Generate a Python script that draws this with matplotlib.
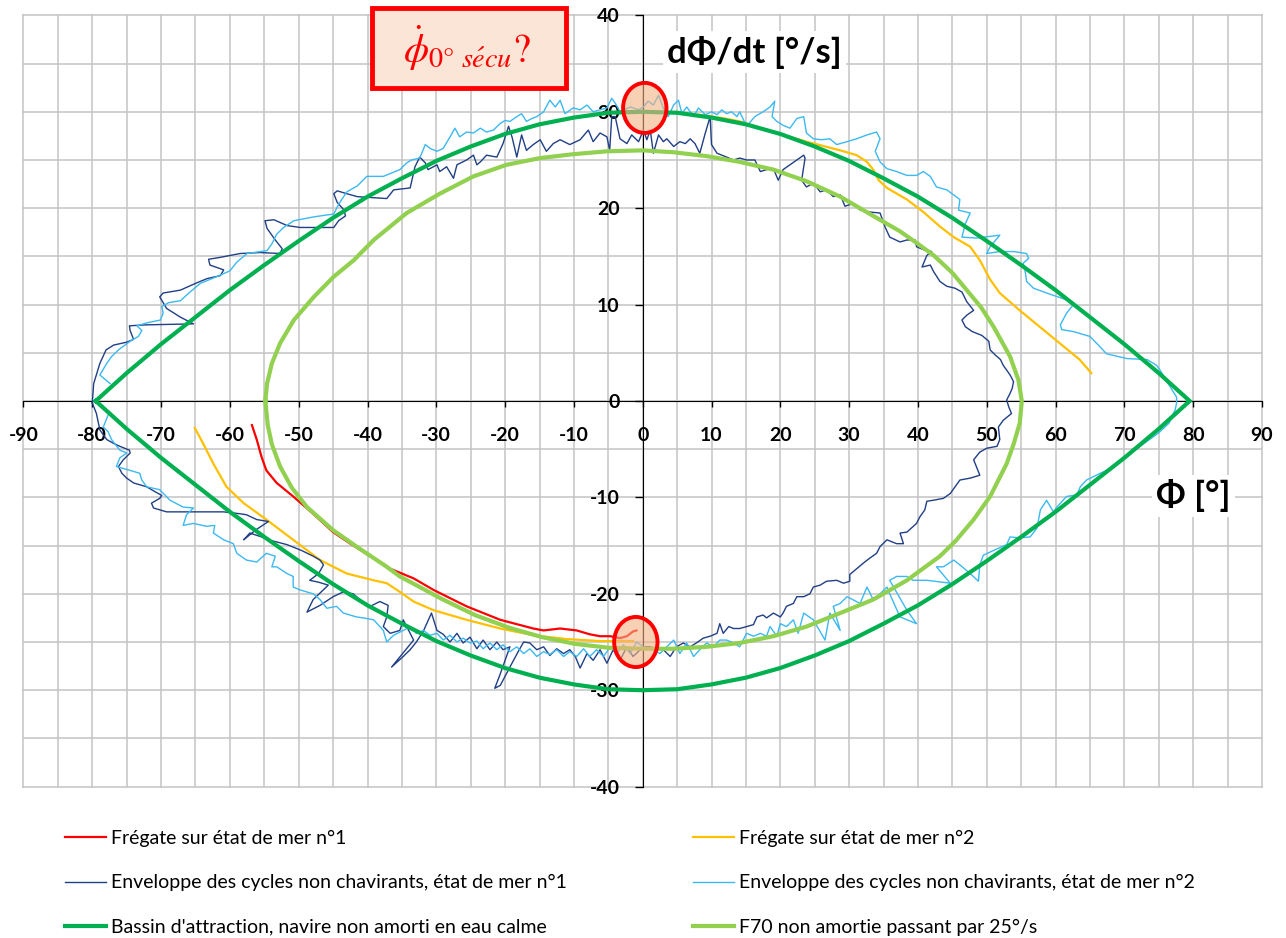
import matplotlib
matplotlib.use("Agg")
import matplotlib.pyplot as plt
from matplotlib.patches import Ellipse, Rectangle
import numpy as np

# Polices
plt.rcParams['font.family'] = ['Lato', 'DejaVu Sans']
plt.rcParams['mathtext.fontset'] = 'stix'
plt.rcParams['axes.unicode_minus'] = False

# Frégate sur état de mer n°1 (roulis [°], vitesse de roulis [°/s])
phi_freg1 = [-56.8, -56.1, -55.4, -54.7, -53.2, -50.8, -47.9, -45.0, -42.5, -39.6, -36.7,
             -33.3, -30.4, -25.6, -20.7, -15.9, -14.4, -12.0, -9.6, -7.7, -6.2, -4.7,
             -3.3, -2.3, -1.4, -0.9]
dphi_freg1 = [-2.5, -4.0, -5.8, -7.2, -8.5, -9.9, -11.7, -13.6, -14.8, -16.1, -17.4,
              -18.4, -19.6, -21.3, -22.7, -23.6, -23.8, -23.6, -23.8, -24.2, -24.4, -24.4,
              -24.6, -24.4, -23.9, -23.8]

# Frégate sur état de mer n°2 (deux passages, séparés par nan)
phi_freg2 = [-65.1, -63.9, -62.4, -60.5, -58.0, -54.7, -50.8, -46.9, -43.0, -39.1, -37.2,
             -35.3, -33.3, -30.4, -25.6, -20.7, -15.9, -11.0, -6.2, -3.3, -1.4, np.nan,
             8.0, 12.0, 14.1, 19.0, 23.8, 28.7, 31.1, 32.6, 33.5, 34.3, 35.5, 38.4, 40.8,
             43.2, 45.2, 47.6, 49.0, 50.5, 51.9, 54.8, 57.7, 60.6, 63.5, 65.2]
dphi_freg2 = [-2.8, -4.4, -6.5, -8.9, -10.6, -12.3, -14.4, -16.5, -17.9, -18.6, -18.9,
              -19.8, -20.8, -21.7, -22.7, -23.6, -24.3, -24.7, -24.9, -24.9, -24.9, np.nan,
              29.7, 29.3, 29.0, 27.9, 26.9, 26.0, 25.5, 24.8, 24.0, 22.9, 22.1, 20.9, 19.6,
              18.1, 17.0, 16.0, 14.6, 12.6, 11.2, 9.4, 7.7, 6.0, 4.3, 2.9]

# Enveloppe des cycles non chavirants, état de mer n°1
phi_env1 = [-80.0, -79.8, -78.9, -78.0, -76.9, -75.0, -74.0, -74.5, -74.6, -72.1, -65.3,
            -67.2, -69.2, -70.2, -69.7, -67.2, -65.0, -63.3, -61.4, -60.9, -62.9, -63.1,
            -61.4, -58.5, -55.6, -52.7, -52.4, -53.4, -54.6, -54.9, -53.6, -51.7, -49.8,
            -47.8, -44.9, -44.2, -43.2, -43.4, -44.4, -44.9, -44.4, -43.0, -41.5,
            -37.2, -36.2, -33.8, -33.1, -32.4, -31.6, -31.2, -29.9, -29.5, -28.5, -27.5,
            -27.0, -25.6, -24.6, -24.1, -23.6, -22.7, -21.2, -20.3, -19.5, -19.0, -18.3,
            -17.6, -16.9, -15.9, -14.9, -14.0, -13.0, -12.0, -10.6, -9.1, -7.9, -7.2,
            -6.2, -5.2, -4.8, -4.5, -4.0, -3.3, -2.3, -1.6, -0.6, 0.1,
            0.6, 1.1, 1.55, 2.3, 3.0, 3.5, 4.5, 5.4, 6.2, 6.9, 7.6, 8.3, 9.1, 9.8, 10.0,
            10.8, 12.2, 13.2, 14.1, 15.1, 16.3, 17.1, 18.0, 19.0, 19.7, 20.4, 21.4, 22.4,
            23.4, 23.6, 23.1, 23.8, 24.8, 25.8, 26.7, 27.7, 28.7, 29.4, 30.6, 31.6, 33.0,
            34.5, 35.2, 35.9,
            37.4, 38.4, 39.6, 39.8, 40.8, 42.0, 41.3, 40.6, 41.8, 42.3, 43.2, 44.2, 45.4,
            46.4, 47.1, 48.1, 47.1, 46.4, 46.9, 47.9, 49.3, 50.3, 50.5, 51.2, 52.0, 52.4,
            52.9, 53.4, 53.9, 53.7, 53.4, 52.9, 53.2,
            53.6, 52.4, 51.7, 51.9, 51.5, 50.0, 49.0, 48.1, 48.5, 49.0, 47.6, 46.1, 45.4,
            44.7, 43.7, 42.2, 41.3, 41.0, 40.3, 39.8, 38.4, 37.4, 37.9, 36.9, 35.5, 34.5,
            34.0, 33.0, 32.1, 31.1, 30.1, 30.1, 29.2, 28.2, 26.7, 25.8, 24.8, 24.3, 23.4,
            22.4, 21.9, 20.9, 20.4, 20.0, 19.0, 18.0, 17.5, 16.6, 16.1, 15.1, 14.1, 13.2,
            12.5, 11.7, 11.2, 10.8, 9.8, 8.8, 7.8, 6.9, 5.9, 4.9, 4.0, 3.0, 2.0, 1.1, 0.1,
            -1.4, -2.3, -3.3, -4.3, -5.2, -6.2, -7.2, -8.1, -9.1, -9.8, -10.6, -11.5,
            -12.5, -13.5, -14.4, -15.4, -16.4, -17.3, -18.1, -19.3, -20.7, -21.5, -20.7,
            -19.3, -20.3, -21.2, -22.2, -23.2, -24.1, -25.1, -26.1, -27.0, -28.0, -29.0,
            -29.9, -30.7, -31.9, -32.9, -33.8, -34.8, -36.5,
            -33.3, -34.8, -35.3, -36.7, -37.7, -37.2, -37.0, -38.2, -39.6, -41.1, -42.1,
            -43.5, -45.0, -46.9, -48.8, -47.9, -45.7, -47.1, -48.4, -47.1, -46.4, -46.9,
            -47.9, -49.6, -51.7, -54.4, -55.4, -57.1, -58.0, -56.3, -54.4, -56.1, -57.6,
            -58.5, -60.9, -64.8, -69.2, -71.1, -71.4, -70.2, -69.9, -70.9, -72.1, -74.0,
            -75.0, -75.7, -76.2, -75.5, -74.5, -74.6, -76.0, -76.9, -77.9, -78.9, -79.4,
            -80.0]
dphi_env1 = [-0.2, 1.8, 3.9, 5.3, 5.8, 6.1, 6.4, 7.3, 7.8, 7.9, 8.0,
             8.7, 9.6, 10.8, 11.2, 11.5, 12.2, 12.7, 13.0, 13.6, 14.1, 14.7,
             14.9, 15.3, 15.4, 15.3, 15.8, 16.7, 17.9, 18.7, 18.8, 18.2, 18.0,
             18.0, 18.0, 18.7, 19.2, 19.8, 20.6, 21.5, 21.8, 21.5, 21.2,
             21.0, 21.9, 22.1, 24.3, 25.3, 24.7, 24.0, 24.5, 23.8, 24.3, 23.1,
             24.5, 25.0, 25.5, 24.5, 24.8, 25.5, 25.3, 26.7, 28.5, 27.4, 25.3,
             27.6, 26.0, 26.6, 27.1, 25.9, 26.7, 27.1, 26.6, 27.1, 28.1, 26.9,
             27.8, 27.4, 26.0, 29.5, 29.5, 27.2, 26.7, 27.6, 26.9, 28.1,
             27.1, 28.1, 25.7, 27.6, 26.9, 27.2, 26.4, 26.9, 26.7, 27.2, 26.7, 25.7, 27.8, 29.5, 26.6,
             25.7, 25.3, 25.0, 25.2, 25.0, 25.0, 23.8, 24.0, 24.1, 22.9, 24.0, 24.5, 25.0,
             25.5, 25.2, 22.9, 22.2, 22.6, 21.7, 21.9, 21.2, 21.4, 20.2, 20.5, 19.8, 19.6,
             19.5, 18.1, 17.0,
             16.5, 16.7, 16.7, 16.0, 15.7, 15.5, 15.1, 13.9, 14.1, 13.4, 12.4, 11.9, 11.7,
             11.3, 10.3, 9.4, 8.9, 8.4, 7.7, 7.2, 6.8, 6.2, 5.3, 4.8, 4.3, 3.7,
             3.2, 2.7, 2.0, 1.3, 0.8, 0.1, -0.6,
             -1.3, -2.0, -2.7, -4.0, -4.7, -4.9, -5.3, -6.1, -6.8, -7.7, -8.0, -8.2, -8.9,
             -9.6, -10.1, -10.3, -10.4, -11.3, -12.0, -12.7, -13.6, -13.7, -14.8, -14.8, -14.4, -15.1,
             -15.8, -16.3, -16.8, -17.4, -18.0, -18.7, -18.9, -18.6, -18.7, -19.1, -19.3, -20.0, -20.3,
             -20.3, -21.0, -21.3, -22.0, -22.4, -22.0, -22.5, -22.2, -22.4, -23.2, -23.4, -23.6, -23.6,
             -23.4, -24.1, -23.1, -24.1, -24.4, -24.6, -25.1, -25.5, -25.1, -25.5, -26.5, -25.8, -25.7, -25.5, -25.5,
             -26.5, -25.5, -26.9, -25.8, -27.2, -25.8, -26.9, -26.2, -27.7, -26.5, -25.8, -26.2,
             -25.7, -26.4, -25.5, -25.8, -25.1, -25.0, -26.0, -27.6, -29.5, -29.8, -28.3,
             -25.5, -25.8, -25.0, -25.8, -24.8, -25.7, -24.5, -25.1, -24.1, -25.0, -24.2,
             -23.8, -22.0, -23.9, -25.0, -25.8, -26.5, -27.6,
             -24.8, -22.7, -23.8, -24.1, -23.4, -22.4, -21.2, -20.8, -21.3, -20.6, -20.0,
             -19.8, -20.3, -21.2, -21.9, -20.6, -19.1, -18.8, -18.6, -17.9, -17.0, -16.5,
             -16.1, -15.5, -14.9, -14.4, -14.1, -13.7, -14.4, -13.4, -12.5, -12.3, -11.8,
             -11.7, -11.5, -11.5, -11.5, -11.1, -10.6, -10.1, -9.8, -9.4, -8.9, -8.5,
             -8.0, -7.5, -6.8, -6.1, -5.4, -5.1, -4.7, -4.4, -4.0, -3.0, -1.3,
             -0.2]

# Enveloppe des cycles non chavirants, état de mer n°2
phi_env2 = [-77.4, -78.9, -77.9, -77.2, -76.2, -74.5, -73.3, -72.8, -73.5, -72.1, -70.1,
            -69.7, -69.9, -68.9, -67.2, -65.8, -64.3, -61.9, -60.0, -59.0, -57.5, -54.6,
            -53.9, -53.2, -52.2, -50.7, -47.8, -44.9, -44.2, -43.0, -41.5,
            -40.1, -37.7, -35.3, -34.3, -33.6, -32.4, -31.6, -30.9, -29.9, -29.0, -28.0,
            -27.3, -26.6, -25.6, -24.6, -23.6, -22.7, -21.7, -20.7, -20.0, -19.3, -18.3,
            -17.6, -16.9, -16.1, -15.4, -14.4, -13.5, -12.7, -12.0, -11.3, -10.1, -9.1,
            -8.1, -7.2, -6.2, -5.2, -4.5, -4.0, -3.3, -1.8, -0.6,
            0.1, 0.8, 1.55, 2.3, 3.0, 3.7, 4.5, 5.2, 5.7, 6.4, 7.4, 8.1, 9.1, 10.0, 10.8,
            11.5, 12.2, 12.9, 13.7, 14.1, 15.1, 16.3, 17.5, 18.5, 19.2, 18.8, 19.5, 20.4,
            21.4, 22.4, 23.4, 23.8, 24.8, 26.0, 27.2, 28.2, 29.7, 31.1, 32.6, 34.0, 34.5,
            33.8, 34.5, 35.5, 36.9, 38.4, 39.8, 40.8, 41.8, 42.7, 44.2,
            46.1, 45.9, 47.6, 46.9, 46.4, 48.5, 51.9, 50.5, 50.0, 51.9, 53.9, 55.8, 56.1,
            55.3, 55.6, 55.8, 56.8, 58.7, 61.6, 62.6, 61.6, 60.7, 60.9, 62.6, 65.0, 66.5,
            67.4, 70.4, 73.3, 74.7, 75.2, 76.2, 77.6, 77.6, 77.4,
            76.5, 75.0, 72.5, 70.0, 68.0,
            66.5, 64.5, 63.6, 63.1, 61.6, 60.2, 59.7, 58.7, 57.8, 57.3, 56.3, 54.8, 53.4,
            52.9, 51.0, 49.5, 49.0, 48.8, 47.6, 46.1, 45.2, 43.7, 42.7, 44.7, 41.3, 39.3,
            38.4, 36.9, 35.9, 38.4, 39.8, 37.4, 35.9, 35.5, 34.5, 33.5, 32.6, 31.6, 29.7,
            28.7, 27.7, 28.7, 27.2, 26.5, 24.8, 23.4, 22.6, 21.9, 20.9, 20.0, 19.5, 18.5,
            18.0, 17.1, 16.1, 15.1, 14.1, 13.2, 12.2, 11.2, 10.3, 9.3, 8.3, 7.4, 6.4, 5.4,
            4.5, 3.5, 2.5, 1.55, 0.1,
            -0.9, -1.8, -2.8, -3.8, -4.7, -5.7, -6.7, -7.7, -8.6, -9.6, -10.6, -11.5,
            -12.5, -13.5, -14.4, -15.4, -16.4, -17.3, -18.3, -19.3, -20.3, -21.2, -22.2,
            -23.2, -24.1, -25.1, -26.1, -27.0, -28.0, -29.0, -29.9, -30.9, -31.9, -32.9,
            -33.8, -34.8,
            -36.2, -37.2, -37.7, -39.1, -40.6, -41.6, -43.5, -44.5, -45.9, -46.9, -47.9,
            -49.8, -50.8, -50.8, -51.7, -53.2, -53.9, -53.4, -54.7, -56.1, -57.6, -59.0,
            -59.5, -60.9, -62.4, -62.2, -63.4, -65.3, -66.8, -66.3, -65.3, -66.8, -68.7,
            -70.2, -72.1, -72.8, -73.1, -74.5, -76.5, -76.0, -75.0, -76.0, -77.2, -77.7,
            -78.4, -77.7]
dphi_env2 = [1.8, 2.7, 3.9, 4.6, 5.3, 6.2, 6.7, 7.3, 7.8, 8.1, 8.4,
             9.1, 9.8, 10.2, 10.4, 11.3, 12.2, 12.9, 13.5, 14.4, 15.3, 15.6,
             16.3, 17.3, 18.0, 18.7, 19.1, 19.4, 20.4, 21.7, 22.3,
             23.3, 23.3, 24.0, 24.7, 25.0, 25.2, 26.6, 26.2, 25.9, 26.2, 27.4,
             28.3, 27.4, 27.9, 27.8, 28.3, 27.9, 28.1, 28.8, 29.1, 29.0, 29.5,
             29.8, 29.0, 29.3, 29.5, 30.0, 31.2, 30.5, 31.2, 29.8, 30.4, 30.2,
             30.7, 30.0, 30.2, 30.4, 31.4, 30.9, 30.0, 30.5, 30.2,
             30.5, 31.1, 30.7, 31.7, 30.4, 29.5, 30.7, 31.2, 29.8, 30.5, 29.5, 30.4, 29.7, 30.0, 29.7,
             30.2, 29.8, 30.0, 29.5, 30.0, 28.5, 29.5, 30.0, 30.5, 31.1, 29.5, 29.0, 28.6,
             28.3, 29.3, 29.5, 27.8, 27.2, 27.1, 27.2, 26.6, 26.9, 27.2, 27.6, 27.9, 27.2,
             25.9, 24.8, 24.1, 23.8, 23.4, 23.4, 23.8, 23.3, 22.2, 21.9,
             20.9, 19.8, 19.5, 18.4, 17.0, 16.9, 17.2, 16.0, 15.3, 15.5, 15.5, 15.3, 14.8,
             14.3, 13.4, 12.4, 11.7, 11.2, 10.5, 10.0, 9.1, 7.9, 7.4, 7.2, 6.7, 5.6,
             4.9, 4.4, 4.3, 3.7, 3.2, 2.0, 0.4, -0.2, -0.9,
             -2.3, -3.3, -4.6, -6.0, -7.0,
             -7.5, -8.2, -8.9, -9.75, -9.9, -11.0, -11.5, -10.3, -11.3, -13.2, -14.1, -14.2, -14.1,
             -14.9, -15.5, -16.0, -17.0, -18.7, -17.9, -17.0, -16.5, -17.2, -17.2, -18.9, -18.6, -18.6,
             -18.2, -18.2, -18.6, -21.7, -23.1, -22.4, -20.0, -19.3, -20.0, -20.6, -19.3, -21.0, -20.3,
             -21.0, -21.3, -23.8, -22.0, -24.8, -22.7, -22.0, -24.1, -22.7, -23.4, -23.1, -24.4, -23.4,
             -24.4, -24.1, -24.4, -24.1, -25.5, -25.1, -24.8, -24.8, -25.5, -25.1, -25.8, -26.5, -25.1, -26.2,
             -24.8, -25.5, -26.2, -25.8, -25.5,
             -25.0, -26.2, -25.3, -26.2, -25.5, -26.5, -25.8, -26.5, -25.7, -26.5, -26.0, -26.5,
             -25.8, -26.3, -26.0, -26.5, -25.7, -26.2, -25.5, -26.0, -25.3, -25.8, -25.1,
             -25.7, -24.9, -25.1, -24.6, -25.0, -24.3, -24.8, -24.1, -24.3, -23.8, -24.1,
             -23.4, -23.8,
             -24.3, -25.0, -23.8, -22.7, -22.5, -22.4, -22.0, -21.3, -21.5, -20.6, -20.0,
             -19.6, -19.3, -18.2, -17.9, -17.2, -17.2, -16.1, -15.8, -16.7, -16.5, -15.8,
             -14.8, -14.4, -13.7, -12.9, -13.0, -12.7, -12.9, -11.8, -11.1, -11.0, -10.3,
             -9.2, -8.9, -8.2, -7.5, -7.2, -6.8, -5.9, -5.4, -5.1, -4.0, -3.2,
             -2.7, -1.45]

# Bassin d'attraction, navire non amorti en eau calme (contour fermé)
phi_bassin = [-79.5, -75, -70, -65, -60, -55, -50, -45, -40, -35, -30, -25, -20, -15, -10, -5,
              0, 5, 10, 15, 20, 25, 30, 35, 40, 45, 50, 55, 60, 65, 70, 75, 79.5,
              75, 70, 65, 60, 55, 50, 45, 40, 35, 30, 25, 20, 15, 10, 5,
              0, -5, -10, -15, -20, -25, -30, -35, -40, -45, -50, -55, -60, -65, -70, -75, -79.5]
dphi_bassin = [0.0, 2.9, 5.9, 8.7, 11.5, 14.1, 16.6, 19.0, 21.2, 23.1, 24.9, 26.4, 27.7, 28.7, 29.4, 29.9,
               30.0, 29.9, 29.4, 28.7, 27.7, 26.4, 24.9, 23.1, 21.2, 19.0, 16.6, 14.1, 11.5, 8.7, 5.9, 2.9, 0.0,
               -2.9, -5.9, -8.7, -11.5, -14.1, -16.6, -19.0, -21.2, -23.1, -24.9, -26.4, -27.7, -28.7, -29.4, -29.9,
               -30.0, -29.9, -29.4, -28.7, -27.7, -26.4, -24.9, -23.1, -21.2, -19.0, -16.6, -14.1, -11.5, -8.7, -5.9, -2.9, 0.0]

# F70 non amortie passant par 25°/s (contour fermé)
phi_f70 = [-54.85, -54.6, -53.9, -52.7, -50.7, -47.8, -44.9, -42.0, -39.1, -34.3, -29.5,
           -24.6, -19.8, -14.9, -10.1, -5.2, 0.0, 4.5, 9.3, 14.1, 19.0, 23.8, 28.7, 33.5,
           37.4, 40.0, 42.3, 45.0, 47.1, 49.2, 51.0, 52.4, 53.4, 54.6, 55.1,
           54.8, 53.9, 52.9, 50.5, 48.1, 45.5, 43.2, 38.4, 33.5, 28.7, 23.8, 19.0, 14.1,
           9.3, 4.5, 0.0, -4.9, -9.8, -14.6, -19.5, -24.4, -29.3, -32.4, -35.3, -37.2,
           -41.6, -45.0, -48.8, -51.0, -52.7, -53.9, -54.5, -54.85]
dphi_f70 = [0.0, 1.8, 3.9, 6.0, 8.4, 10.8, 12.9, 14.6, 16.7, 19.5, 21.5,
            23.3, 24.5, 25.2, 25.6, 25.9, 26.0, 25.8, 25.4, 24.8, 24.0, 22.8, 21.2, 19.2,
            17.6, 16.3, 15.1, 13.3, 11.5, 9.7, 7.7, 5.9, 4.6, 2.2, 0.0,
            -2.3, -4.5, -6.5, -9.9, -12.3, -14.5, -16.1, -18.6, -20.6, -22.0, -23.4, -24.4, -25.1,
            -25.5, -25.7, -25.7, -25.6, -25.2, -24.5, -23.5, -22.2, -20.5, -19.3, -18.2, -17.2,
            -15.1, -13.4, -11.0, -9.0, -6.8, -4.5, -2.5, 0.0]

# Points de passage entourés
cercles_phi = [0.3, -1.0]
cercles_dphi = [30.4, -25.0]

lab_freg1 = "Frégate sur état de mer n°1"
lab_freg2 = "Frégate sur état de mer n°2"
lab_env1 = "Enveloppe des cycles non chavirants, état de mer n°1"
lab_env2 = "Enveloppe des cycles non chavirants, état de mer n°2"
lab_bassin = "Bassin d'attraction, navire non amorti en eau calme"
lab_f70 = "F70 non amortie passant par 25°/s"

fig = plt.figure(figsize=(12.86, 9.38), dpi=100)
ax = fig.add_axes([0.01827, 0.1614, 0.963, 0.8222])

l1, = ax.plot(phi_freg1, dphi_freg1, color='#FF0000', lw=1.6, zorder=3, label=lab_freg1)
l2, = ax.plot(phi_freg2, dphi_freg2, color='#FFC000', lw=1.6, zorder=3, label=lab_freg2)
l3, = ax.plot(phi_env1, dphi_env1, color='#203F85', lw=1.0, zorder=4, label=lab_env1)
l4, = ax.plot(phi_env2, dphi_env2, color='#3BB9F0', lw=1.0, zorder=4, label=lab_env2)
l5, = ax.plot(phi_bassin, dphi_bassin, color='#00B050', lw=3.0, zorder=5,
              solid_joinstyle='miter', label=lab_bassin)
l6, = ax.plot(phi_f70, dphi_f70, color='#92D050', lw=3.0, zorder=6, label=lab_f70)

for cx, cy in zip(cercles_phi, cercles_dphi):
    ax.add_patch(Ellipse((cx, cy), 6.3, 5.2, facecolor='#F4B183', alpha=0.6,
                         edgecolor='none', zorder=7))
    ax.add_patch(Ellipse((cx, cy), 6.3, 5.2, facecolor='none', edgecolor='#FF0000',
                         lw=2.8, zorder=8))

# Axes au centre
ax.set_xlim(-90, 90)
ax.set_ylim(-40, 40)
ax.spines['left'].set_position(('data', 0))
ax.spines['bottom'].set_position(('data', 0))
ax.spines['top'].set_visible(False)
ax.spines['right'].set_visible(False)
ax.spines['left'].set_zorder(2)
ax.spines['bottom'].set_zorder(2)
ax.set_xticks(np.arange(-90, 91, 10))
ax.set_yticks(np.arange(-40, 41, 10))
ax.set_xticks(np.arange(-90, 91, 5), minor=True)
ax.set_yticks(np.arange(-40, 41, 5), minor=True)
ax.tick_params(which='minor', length=0)
ax.tick_params(axis='x', which='major', direction='out', length=4.5, width=1, pad=14,
               labelsize=14)
ax.tick_params(axis='y', which='major', direction='out', length=5.5, width=1, pad=11,
               labelsize=14)
for t in ax.get_xticklabels() + ax.get_yticklabels():
    t.set_fontweight('bold')
ax.grid(which='both', color='#C3C3C3', lw=1.1, zorder=0)
ax.set_axisbelow(True)
for gl in ax.get_xgridlines() + ax.get_ygridlines():
    gl.set_clip_on(False)

# Titres d'axes
ax.text(16.25, 36.2, "dΦ/dt [°/s]", fontsize=25, fontweight='bold', ha='center', va='center',
        bbox=dict(facecolor='white', edgecolor='none', pad=3), zorder=9)
ax.text(80.0, -9.85, "Φ [°]", fontsize=25, fontweight='bold', ha='center', va='center',
        bbox=dict(facecolor='white', edgecolor='none', pad=3), zorder=9)

# Encadré vitesse de roulis de sécurité
ax.add_patch(Rectangle((-39.3, 32.5), 28.15, 8.3, facecolor='#FBE5D6', edgecolor='#FF0000',
                       lw=3.5, clip_on=False, zorder=9))
ax.text(-25.5, 36.6, r"$\dot{\phi}_{0°\ s\acute{e}cu}?$", color='#FF0000', fontsize=29,
        ha='center', va='center', zorder=10, clip_on=False)

# Légende sur deux colonnes
leg_kw = dict(loc='upper left', frameon=False, fontsize=14, handlelength=2.1,
              handletextpad=0.25, labelspacing=1.4, borderpad=0, borderaxespad=0)
fig.legend(handles=[l1, l3, l5], bbox_to_anchor=(65 / 1286, 1 - 830 / 938), **leg_kw)
fig.legend(handles=[l2, l4, l6], bbox_to_anchor=(693 / 1286, 1 - 830 / 938), **leg_kw)

fig.savefig("out.png", dpi=100)
